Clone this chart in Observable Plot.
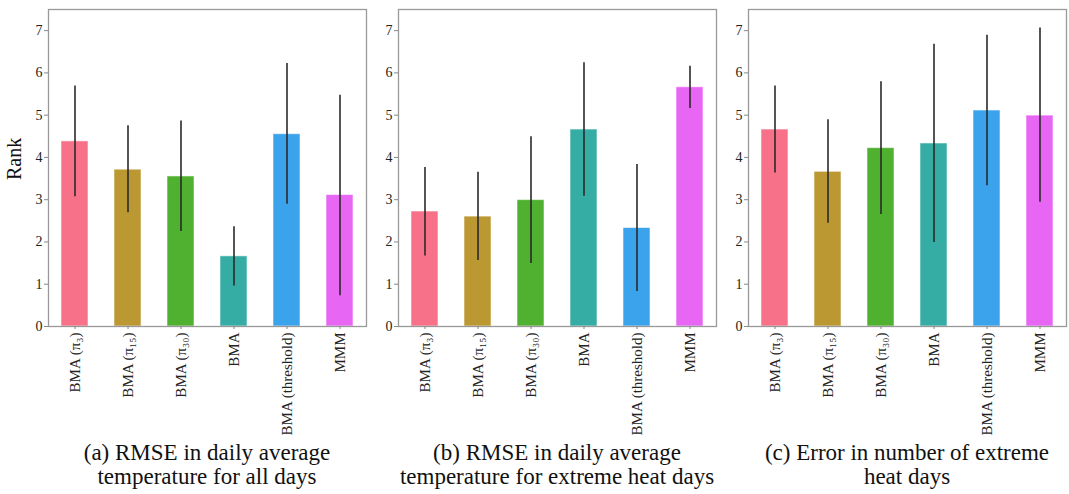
<!DOCTYPE html>
<html>
<head>
<meta charset="utf-8">
<script src="https://cdn.jsdelivr.net/npm/d3@7"></script>
<script src="https://cdn.jsdelivr.net/npm/@observablehq/plot@0.6"></script>
<style>
  html, body { margin: 0; padding: 0; background: #fff; }
  #wrap { position: relative; width: 1069px; height: 494px; overflow: hidden; font-family: "Liberation Serif", "Times New Roman", serif; }
  .panel { position: absolute; top: 0; }
  .cap { position: absolute; top: 441px; width: 360px; text-align: center; font-size: 23px; line-height: 24px; color: #111; font-family: "Liberation Serif", "Times New Roman", serif; }
</style>
</head>
<body>
<div id="wrap"></div>
<script>
const methods = ["BMA (π₃)", "BMA (π₁₅)", "BMA (π₃₀)", "BMA", "BMA (threshold)", "MMM"];
const colors = ["#f77189", "#bb9832", "#50b131", "#36ada4", "#3ba3ec", "#e866f4"];
const yTicks = [0, 1, 2, 3, 4, 5, 6, 7];

// (a) RMSE in daily average temperature for all days
const meanA = [4.38, 3.71, 3.55, 1.66, 4.55, 3.11];
const loA   = [3.07, 2.69, 2.25, 0.96, 2.89, 0.73];
const hiA   = [5.69, 4.75, 4.86, 2.36, 6.22, 5.47];

// (b) RMSE in daily average temperature for extreme heat days
const meanB = [2.72, 2.60, 2.99, 4.66, 2.33, 5.66];
const loB   = [1.67, 1.56, 1.49, 3.08, 0.83, 5.16];
const hiB   = [3.76, 3.65, 4.49, 6.24, 3.83, 6.16];

// (c) Error in number of extreme heat days
const meanC = [4.66, 3.66, 4.22, 4.33, 5.11, 4.99];
const loC   = [3.63, 2.44, 2.65, 1.99, 3.33, 2.94];
const hiC   = [5.69, 4.89, 5.79, 6.68, 6.89, 7.06];

const captions = [
  ["(a) RMSE in daily average", "temperature for all days"],
  ["(b) RMSE in daily average", "temperature for extreme heat days"],
  ["(c) Error in number of extreme", "heat days"]
];

const panels = [
  {mean: meanA, lo: loA, hi: hiA, left: 0, rank: true},
  {mean: meanB, lo: loB, hi: hiB, left: 350, rank: false},
  {mean: meanC, lo: loC, hi: hiC, left: 700, rank: false}
];

const wrap = document.getElementById("wrap");

panels.forEach((p, k) => {
  const data = methods.map((m, i) => ({method: m, mean: p.mean[i], lo: p.lo[i], hi: p.hi[i]}));
  const marks = [
    Plot.barY(data, {x: "method", y: "mean", fill: "method", stroke: "white", strokeOpacity: 0.55, strokeWidth: 1}),
    Plot.ruleX(data, {x: "method", y1: "lo", y2: "hi", stroke: "#2a2a2a", strokeWidth: 1.6}),
    Plot.frame({stroke: "#999", strokeWidth: 1.3}),
    Plot.axisY({ticks: yTicks, tickSize: 4, tickPadding: 2, stroke: "#888", fill: "#222", fontSize: 14, label: null}),
    Plot.axisX({tickRotate: -90, tickSize: 3, tickPadding: 3, stroke: "#888", fill: "#222", fontSize: 15, label: null})
  ];
  if (p.rank) {
    marks.push(Plot.text(["Rank"], {frameAnchor: "left", dx: -34, dy: 12, rotate: -90, fontSize: 20, fill: "#111"}));
  }
  const chart = Plot.plot({
    width: 370,
    height: 440,
    marginLeft: 48,
    marginRight: 4,
    marginTop: 9,
    marginBottom: 114,
    style: {fontFamily: "'Liberation Serif', 'Times New Roman', serif", background: "transparent", color: "#222", overflow: "visible"},
    x: {domain: methods, paddingInner: 0.5, paddingOuter: 0.25},
    y: {domain: [0, 7.5]},
    color: {domain: methods, range: colors},
    marks
  });
  chart.classList.add("panel");
  chart.style.left = p.left + "px";
  wrap.appendChild(chart);

  const cap = document.createElement("div");
  cap.className = "cap";
  cap.style.left = (p.left + 48 + 159 - 180) + "px";
  cap.innerHTML = captions[k].join("<br>");
  wrap.appendChild(cap);
});
</script>
</body>
</html>
